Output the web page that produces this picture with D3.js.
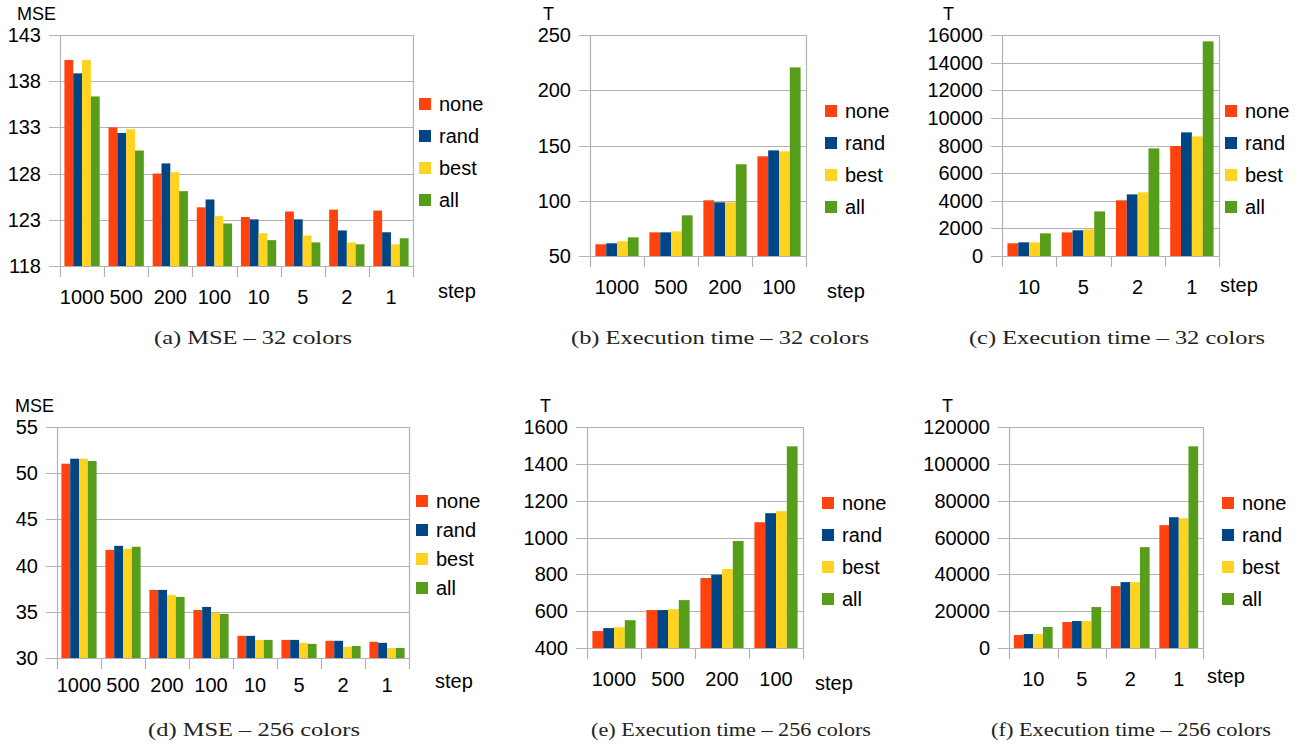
<!DOCTYPE html>
<html>
<head>
<meta charset="utf-8">
<script src="https://cdn.jsdelivr.net/npm/d3@7"></script>
<style>
  body { margin: 0; background: #fff; }
  svg text { font-family: "Liberation Sans", Arial, sans-serif; fill: #000; }
  svg text.caption { font-family: "Liberation Serif", "DejaVu Serif", serif; }
</style>
</head>
<body>
<svg id="chart" width="1301" height="746"></svg>
<script>
// series + colours
const seriesNames = ['none', 'rand', 'best', 'all'];
const seriesColors = ['#ff420e', '#004586', '#ffd320', '#579d1c'];

// x categories (step)
const stepsAll = ['1000', '500', '200', '100', '10', '5', '2', '1'];
const stepsCoarse = ['1000', '500', '200', '100'];
const stepsFine = ['10', '5', '2', '1'];

// values, one row per series: none, rand, best, all
const mse32 = [
  [140.3, 133.0, 128.0, 124.35, 123.3, 123.9, 124.1, 124.0],
  [138.85, 132.4, 129.1, 125.2, 123.05, 123.05, 121.85, 121.65],
  [140.3, 132.8, 128.15, 123.4, 121.55, 121.3, 120.55, 120.35],
  [136.35, 130.5, 126.1, 122.6, 120.8, 120.55, 120.35, 121.0]
];
const time32Coarse = [
  [60.6, 71.4, 100.4, 140.2],
  [61.5, 71.4, 98.6, 145.6],
  [63.3, 72.3, 98.6, 144.7],
  [66.9, 86.8, 133.0, 220.7]
];
const time32Fine = [
  [920, 1710, 4030, 7960],
  [990, 1860, 4460, 8950],
  [990, 1930, 4610, 8660],
  [1640, 3230, 7790, 15540]
];
const mse256 = [
  [51.03, 41.7, 37.37, 35.2, 32.4, 31.96, 31.86, 31.75],
  [51.57, 42.14, 37.37, 35.53, 32.4, 31.96, 31.86, 31.64],
  [51.57, 41.82, 36.83, 34.88, 31.96, 31.64, 31.2, 31.08],
  [51.32, 42.04, 36.61, 34.77, 31.96, 31.53, 31.3, 31.08]
];
const time256Coarse = [
  [492, 606, 780, 1083],
  [508, 606, 798, 1132],
  [513, 611, 829, 1143],
  [551, 660, 981, 1495]
];
const time256Fine = [
  [7050, 14100, 33600, 66700],
  [7590, 14640, 35780, 71000],
  [7590, 14640, 35780, 70500],
  [11400, 22230, 54760, 109500]
];

// y tick values
const ticksMse32 = [118, 123, 128, 133, 138, 143];
const ticksTime32Coarse = [50, 100, 150, 200, 250];
const ticksTime32Fine = [0, 2000, 4000, 6000, 8000, 10000, 12000, 14000, 16000];
const ticksMse256 = [30, 35, 40, 45, 50, 55];
const ticksTime256Coarse = [400, 600, 800, 1000, 1200, 1400, 1600];
const ticksTime256Fine = [0, 20000, 40000, 60000, 80000, 100000, 120000];

const captions = [
  '(a) MSE – 32 colors',
  '(b) Execution time – 32 colors',
  '(c) Execution time – 32 colors',
  '(d) MSE – 256 colors',
  '(e) Execution time – 256 colors',
  '(f) Execution time – 256 colors'
];

const svg = d3.select('#chart');
const gridColor = '#b3b3b3';
const fs = '20px';

// layout of each panel (plot box in px + a few offsets)
const panels = [
  {cats: stepsAll, values: mse32, ticks: ticksMse32, title: 'MSE',
   box: {l: 60, r: 413, t: 35, b: 266}, titleDx: -43, legDx: 6, legDy: 69, legGap: 32,
   catDy: 31, stepDx: 25, stepDy: 25, cap: 0, capX: 253, capY: 337, capW: 198},
  {cats: stepsCoarse, values: time32Coarse, ticks: ticksTime32Coarse, title: 'T',
   box: {l: 590, r: 806, t: 35, b: 256}, titleDx: -47, legDx: 19, legDy: 76, legGap: 32,
   catDy: 31, stepDx: 21, stepDy: 35, cap: 1, capX: 720, capY: 337, capW: 298},
  {cats: stepsFine, values: time32Fine, ticks: ticksTime32Fine, title: 'T',
   box: {l: 1002, r: 1219, t: 35, b: 256}, titleDx: -59, legDx: 6, legDy: 76, legGap: 32,
   catDy: 31, stepDx: 1, stepDy: 29, cap: 2, capX: 1117, capY: 337, capW: 296},
  {cats: stepsAll, values: mse256, ticks: ticksMse256, title: 'MSE',
   box: {l: 57, r: 409, t: 427, b: 658}, titleDx: -42, legDx: 7, legDy: 74, legGap: 29,
   catDy: 27, stepDx: 26, stepDy: 23, cap: 3, capX: 254, capY: 729, capW: 212},
  {cats: stepsCoarse, values: time256Coarse, ticks: ticksTime256Coarse, title: 'T',
   box: {l: 587, r: 803, t: 427, b: 648}, titleDx: -47, legDx: 19, legDy: 76, legGap: 32,
   catDy: 31, stepDx: 12, stepDy: 35, cap: 4, capX: 731, capY: 729, capW: 280},
  {cats: stepsFine, values: time256Fine, ticks: ticksTime256Fine, title: 'T',
   box: {l: 1009, r: 1203, t: 427, b: 648}, titleDx: -67, legDx: 19, legDy: 76, legGap: 32,
   catDy: 31, stepDx: 4, stepDy: 28, cap: 5, capX: 1131, capY: 729, capW: 280}
];

function drawPanel(p) {
  const b = p.box;
  const g = svg.append('g');

  const y = d3.scaleLinear()
    .domain([p.ticks[0], p.ticks[p.ticks.length - 1]])
    .range([b.b, b.t]);

  const x0 = d3.scaleBand()
    .domain(p.cats)
    .range([b.l, b.r])
    .paddingInner(0.2)
    .paddingOuter(0.1);

  const x1 = d3.scaleBand()
    .domain(seriesNames)
    .range([0, x0.bandwidth()]);

  // horizontal grid lines (they poke out left of the axis like tick marks)
  g.selectAll('.grid')
    .data(p.ticks)
    .join('line')
    .attr('x1', b.l - 11)
    .attr('x2', b.r)
    .attr('y1', d => Math.round(y(d)) + 0.5)
    .attr('y2', d => Math.round(y(d)) + 0.5)
    .attr('stroke', gridColor)
    .attr('stroke-width', 1.2);

  // left + right frame lines
  [b.l, b.r].forEach(xx => {
    g.append('line')
      .attr('x1', xx + 0.5).attr('x2', xx + 0.5)
      .attr('y1', b.t).attr('y2', b.b + 11)
      .attr('stroke', gridColor)
      .attr('stroke-width', 1.2);
  });

  // category separators below the axis
  const step = x0.step();
  g.selectAll('.sep')
    .data(p.cats.slice(1))
    .join('line')
    .attr('x1', (d, i) => Math.round(b.l + step * (i + 1)) + 0.5)
    .attr('x2', (d, i) => Math.round(b.l + step * (i + 1)) + 0.5)
    .attr('y1', b.b)
    .attr('y2', b.b + 11)
    .attr('stroke', gridColor)
    .attr('stroke-width', 1.2);

  // bars
  const groups = g.selectAll('.grp')
    .data(p.cats)
    .join('g')
    .attr('transform', d => `translate(${x0(d)},0)`);

  groups.selectAll('rect')
    .data((d, ci) => seriesNames.map((s, si) => ({s: s, si: si, v: p.values[si][ci]})))
    .join('rect')
    .attr('x', d => x1(d.s))
    .attr('width', x1.bandwidth())
    .attr('y', d => y(d.v))
    .attr('height', d => b.b - y(d.v))
    .attr('fill', d => seriesColors[d.si]);

  // y tick labels
  g.selectAll('.ylab')
    .data(p.ticks)
    .join('text')
    .attr('x', b.l - 19)
    .attr('y', d => y(d))
    .attr('dy', '0.35em')
    .attr('text-anchor', 'end')
    .style('font-size', fs)
    .text(d => d);

  // x category labels
  g.selectAll('.xlab')
    .data(p.cats)
    .join('text')
    .attr('x', d => x0(d) + x0.bandwidth() / 2)
    .attr('y', b.b + p.catDy)
    .attr('dy', '0.35em')
    .attr('text-anchor', 'middle')
    .style('font-size', fs)
    .text(d => d);

  // axis titles
  g.append('text')
    .attr('x', b.l + p.titleDx)
    .attr('y', b.t - 21)
    .attr('dy', '0.35em')
    .style('font-size', '18px')
    .text(p.title);

  g.append('text')
    .attr('x', b.r + p.stepDx)
    .attr('y', b.b + p.stepDy)
    .attr('dy', '0.35em')
    .style('font-size', fs)
    .text('step');

  // legend
  const leg = g.selectAll('.leg')
    .data(seriesNames)
    .join('g')
    .attr('transform', (d, i) => `translate(${b.r + p.legDx},${b.t + p.legDy + i * p.legGap})`);

  leg.append('rect')
    .attr('x', 0)
    .attr('y', -6)
    .attr('width', 12)
    .attr('height', 12)
    .attr('fill', (d, i) => seriesColors[i]);

  leg.append('text')
    .attr('x', 20)
    .attr('y', 0)
    .attr('dy', '0.35em')
    .style('font-size', fs)
    .text(d => d);

  // caption under the chart
  svg.append('text')
    .attr('class', 'caption')
    .attr('x', p.capX)
    .attr('y', p.capY)
    .attr('dy', '0.35em')
    .attr('text-anchor', 'middle')
    .attr('textLength', p.capW)
    .attr('lengthAdjust', 'spacingAndGlyphs')
    .style('font-size', '19px')
    .style('fill', '#222')
    .text(captions[p.cap]);
}

panels.forEach(drawPanel);
</script>
</body>
</html>
